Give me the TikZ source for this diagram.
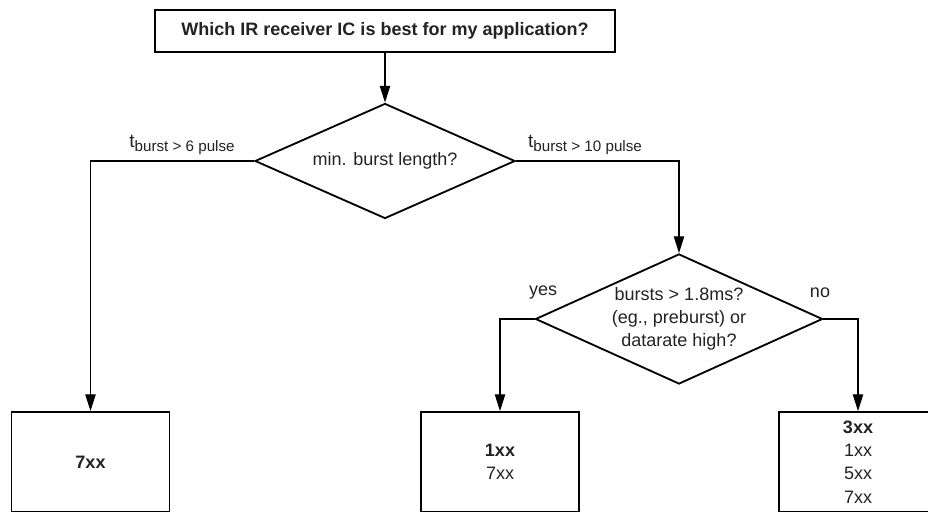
\documentclass[tikz,border=0pt]{standalone}
\usepackage{fontspec}
\setmainfont{Liberation Sans}
\usetikzlibrary{arrows.meta, positioning, shapes.geometric}
\definecolor{ink}{HTML}{222222}
\newcommand{\tsub}[1]{t{\fontsize{10.8}{12}\selectfont\raisebox{-2.8pt}{#1}}}
\tikzset{
  titlebox/.style={
    rectangle,
    draw,
    line width=1.3pt,
    minimum width=11.5cm,
    minimum height=1.05cm,
    text=ink,
    font=\fontsize{12.8}{15}\selectfont\bfseries
  },
  decision/.style={
    diamond,
    draw,
    line width=1.3pt,
    inner sep=0pt,
    align=center,
    text=ink,
    font=\fontsize{12.8}{16.5}\selectfont
  },
  resultbox/.style={
    rectangle,
    draw,
    line width=1.3pt,
    minimum width=3.95cm,
    minimum height=2.5cm,
    align=center,
    text=ink,
    font=\fontsize{12.8}{16.5}\selectfont
  },
  arrow/.style={-{Triangle[length=4.2mm,width=2.6mm]}, line width=0.8pt},
  note/.style={text=ink, font=\fontsize{13.5}{15}\selectfont, inner sep=1pt}
}

\begin{document}
\begin{tikzpicture}[x=0.025cm,y=-0.025cm]
\useasboundingbox (0,0) rectangle (928,512);
\node[titlebox] (question) at (385,31) {Which IR receiver IC is best for my application?};
\node[decision, aspect=2.26, minimum width=6.5cm, minimum height=2.875cm] (burstlen) at (385,161) {min. burst length?};
\node[decision, aspect=2.2, minimum width=7.175cm, minimum height=3.25cm] (burstdur) at (679,319) {bursts > 1.8ms?\\(eg., preburst) or\\datarate high?};
\node[resultbox] (res7) at (90.5,462) {\textbf{7xx}};
\node[resultbox] (res1) at (500,462) {\textbf{1xx}\\7xx};
\node[resultbox] (res3) at (858,462) {\textbf{3xx}\\1xx\\5xx\\7xx};
\node[note] (short) at (182,145) {\tsub{burst > 6 pulse}};
\node[note] (long) at (585,145) {\tsub{burst > 10 pulse}};
\node[note, font=\fontsize{12.8}{15}\selectfont] (yes) at (543,293) {yes};
\node[note, font=\fontsize{12.8}{15}\selectfont] (no) at (820,293) {no};

\draw[arrow] (question) -- (burstlen);
\draw[arrow] (burstlen.west) -| (res7.north);
\draw[arrow] (burstlen.east) -| (burstdur.north);
\draw[arrow] (burstdur.west) -| (res1.north);
\draw[arrow] (burstdur.east) -| (res3.north);
\end{tikzpicture}
\end{document}
